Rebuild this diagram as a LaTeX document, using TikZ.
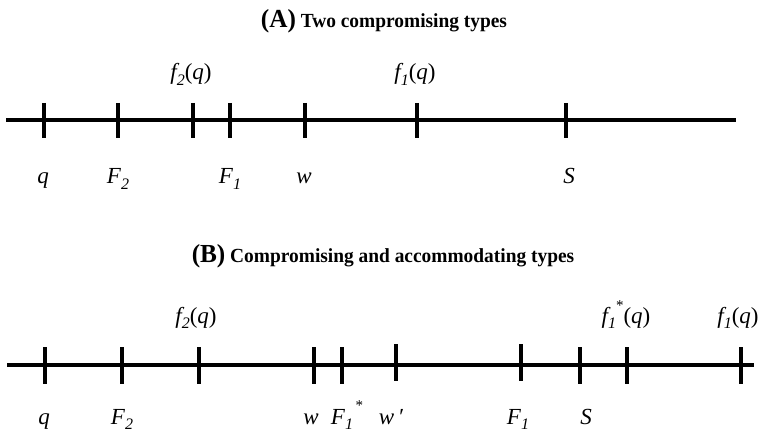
\documentclass[tikz,border=0pt]{standalone}
\usepackage{fontspec}
\setmainfont{Liberation Serif}
\newcommand{\mysub}[1]{\raisebox{-0.22em}{\fontsize{16}{16}\selectfont\itshape #1}}
\newcommand{\mystar}{\raisebox{0.6em}{\fontsize{15}{15}\selectfont\,*}}
\newcommand{\mystartight}{\raisebox{0.55em}{\fontsize{15}{15}\selectfont *}}
\begin{document}
\begin{tikzpicture}[x=1pt,y=-1pt,
  axisline/.style={line width=4.5pt},
  tickmark/.style={line width=4pt},
  lab/.style={inner sep=0pt, anchor=base, font=\fontsize{23}{25}\selectfont},
  ttl/.style={inner sep=0pt, anchor=base, xscale=0.97, font=\bfseries\fontsize{20}{22}\selectfont}]
\useasboundingbox (0,0) rectangle (762,435);

% ---------- Panel A ----------
\node[ttl] (tA) at (384,28) {{\fontsize{26}{27}\selectfont(A)} Two compromising types};
\coordinate (aL) at (6,120);
\coordinate (aR) at (736,120);
\draw[axisline] (aL) -- (aR);
\foreach \n/\x in {aq/44, aF2/118, af2/193, aF1/230, aw/305, af1/417, aS/566}{
  \coordinate (\n) at (\x,120);
  \draw[tickmark] (\n) ++(0,-17) -- ++(0,35);
}
\node[lab] (laf2) at (191,80) {\textit{f\mysub{2}}(\textit{q})};
\node[lab] (laf1) at (415,80) {\textit{f\mysub{1}}(\textit{q})};
\node[lab] (laq)  at (43,184) {\textit{q}};
\node[lab] (laF2) at (118,184) {\textit{F\mysub{2}}};
\node[lab] (laF1) at (230,184) {\textit{F\mysub{1}}};
\node[lab] (law)  at (304,184) {\textit{w}};
\node[lab] (laS)  at (569,184) {\textit{S}};

% ---------- Panel B ----------
\node[ttl] (tB) at (383,263) {{\fontsize{26}{27}\selectfont(B)} Compromising and accommodating types};
\coordinate (bL) at (7,365);
\coordinate (bR) at (754,365);
\draw[axisline] (bL) -- (bR);
\foreach \n/\x in {bq/45, bF2/122, bf2/199, bw/314, bFs/342, bfs/627, bS/580, bf1/741}{
  \coordinate (\n) at (\x,365);
  \draw[tickmark] (\n) ++(0,-18) -- ++(0,37);
}
\foreach \n/\x in {bwp/396, bF1/521}{
  \coordinate (\n) at (\x,365);
  \draw[tickmark] (\n) ++(0,-21) -- ++(0,37);
}
\node[lab] (lbf2) at (196,323) {\textit{f\mysub{2}}(\textit{q})};
\node[lab] (lbfs) at (626,323) {\textit{f\mysub{1}}\mystartight(\textit{q})};
\node[lab] (lbf1) at (738,323) {\textit{f\mysub{1}}(\textit{q})};
\node[lab] (lbq)  at (44,424) {\textit{q}};
\node[lab] (lbF2) at (122,424) {\textit{F\mysub{2}}};
\node[lab] (lbw)  at (311,424) {\textit{w}};
\node[lab] (lbFs) at (347,424) {\textit{F\mysub{1}}\mystar};
\node[lab] (lbwp) at (391,424) {\textit{w\,′}};
\node[lab] (lbF1) at (518,424) {\textit{F\mysub{1}}};
\node[lab] (lbS)  at (586,424) {\textit{S}};
\end{tikzpicture}
\end{document}
